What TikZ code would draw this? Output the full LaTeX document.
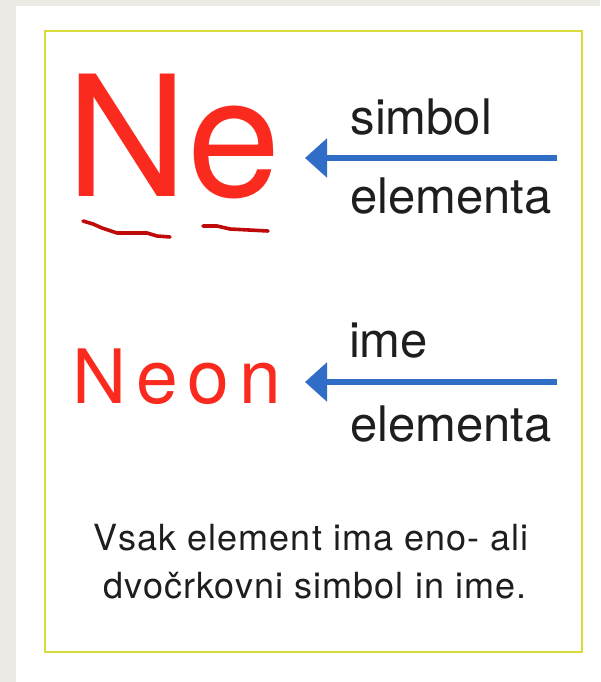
\documentclass[tikz,border=0pt]{standalone}
\usepackage{fontspec}
\setmainfont{TeX Gyre Heros}
\newfontfamily\neonfont[LetterSpace=13]{TeX Gyre Heros}
\newfontfamily\capfont[LetterSpace=3]{TeX Gyre Heros}
\usetikzlibrary{arrows.meta}
\definecolor{bggray}{HTML}{ECEAE5}
\definecolor{frameyellow}{HTML}{D9DC3A}
\definecolor{elred}{HTML}{FA2B1E}
\definecolor{arrblue}{HTML}{2F6DC6}
\definecolor{txtdark}{HTML}{1E1E1E}
\definecolor{penred}{HTML}{C00A0A}
\tikzset{
  lbl/.style={anchor=base west, inner sep=0pt, outer sep=0pt, text=txtdark, font=\fontsize{49}{49}\selectfont},
  capline/.style={anchor=base, inner sep=0pt, outer sep=0pt, text=txtdark, font=\capfont\fontsize{36}{36}\selectfont},
  pointer/.style={arrblue, line width=6pt, -{Triangle[length=22pt,width=38pt]}},
  pen/.style={penred, line width=3.6pt, line cap=round, line join=round}
}
\begin{document}
\begin{tikzpicture}[x=1pt,y=-1pt]
\useasboundingbox (0,0) rectangle (600,682);
\fill[bggray] (0,0) rectangle (600,682);
\fill[white] (16,6) rectangle (600,682);
\draw[frameyellow, line width=1.4pt] (45,31) rectangle (582,652);
% symbol
\node[anchor=base west, inner sep=0pt, text=elred, font=\fontsize{168}{168}\selectfont] (ne) at (66,196) {Ne};
\node[lbl] (simbol) at (350.5,135) {simbol};
\node[lbl] (elem1) at (350,213) {elementa};
\coordinate (s1) at (557,158);
\coordinate (t1) at (305,158);
\draw[pointer] (s1) -- (t1);
% underlines
\draw[pen] (83,221) -- (93,224) -- (102,228) -- (117,233) -- (147,233) -- (157,236) -- (170,237);
\draw[pen] (203,226) -- (217,226) -- (230,229) -- (268,231);
% name
\node[anchor=base west, inner sep=0pt, text=elred, font=\neonfont\fontsize{75}{75}\selectfont] (neon) at (72,403) {Neon};
\node[lbl] (ime) at (349,357) {ime};
\node[lbl] (elem2) at (350,441) {elementa};
\coordinate (s2) at (557,382);
\coordinate (t2) at (305,382);
\draw[pointer] (s2) -- (t2);
% caption
\node[capline] (cap1) at (311,550) {Vsak element ima eno- ali};
\node[capline] (cap2) at (315,598) {dvočrkovni simbol in ime.};
\end{tikzpicture}
\end{document}
